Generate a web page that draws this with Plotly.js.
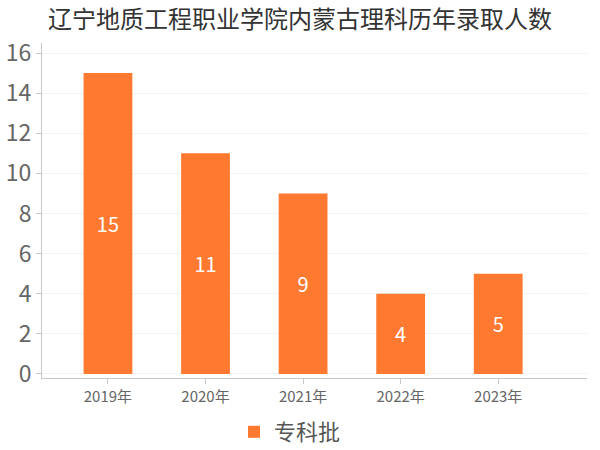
<!DOCTYPE html>
<html>
<head>
<meta charset="utf-8">
<script src="https://cdn.plot.ly/plotly-3.0.1.min.js"></script>
<style>
  html, body { margin: 0; padding: 0; background: #fff; }
  #chart { width: 600px; height: 450px; }
</style>
</head>
<body>
<div id="chart"></div>
<script>
// datos del grafico
const years = ['2019年', '2020年', '2021年', '2022年', '2023年'];
const counts = [15, 11, 9, 4, 5];
const seriesName = '专科批';
const yTicks = [0, 2, 4, 6, 8, 10, 12, 14, 16];

const font = '"Noto Sans CJK SC", "Noto Sans", sans-serif';

const trace = {
  type: 'bar',
  x: years,
  y: counts,
  name: seriesName,
  width: 0.5,
  marker: { color: '#FF7A30' },
  text: counts.map(String),
  textposition: 'inside',
  insidetextanchor: 'middle',
  textfont: { color: '#fff', size: 20, family: font },
  hoverinfo: 'x+y'
};

const layout = {
  width: 600,
  height: 450,
  margin: { l: 42, r: 13, t: 43, b: 72, autoexpand: false },
  paper_bgcolor: '#fff',
  plot_bgcolor: '#fff',
  font: { family: font, color: '#666' },
  title: {
    text: '辽宁地质工程职业学院内蒙古理科历年录取人数',
    font: { size: 24, color: '#333', family: font },
    x: 0.5, xanchor: 'center',
    y: 1 - 20 / 450, yanchor: 'middle'
  },
  showlegend: true,
  legend: {
    orientation: 'h',
    x: 0.455, xanchor: 'center',
    yref: 'container',
    y: 1 - 432 / 450, yanchor: 'middle',
    font: { size: 22, color: '#555' }
  },
  xaxis: {
    type: 'category',
    range: [-0.676, 4.91],
    showline: true,
    linecolor: '#c8c8c8',
    ticks: 'outside',
    ticklen: 5,
    tickcolor: '#c8c8c8',
    tickfont: { size: 15, color: '#666' },
    showgrid: false,
    zeroline: false
  },
  yaxis: {
    range: [-0.2, 16.5],
    tickvals: yTicks,
    showline: true,
    linecolor: '#c8c8c8',
    ticks: 'outside',
    ticklen: 5,
    tickcolor: '#c8c8c8',
    tickfont: { size: 23, color: '#666' },
    gridcolor: '#f3f3f3',
    zeroline: false
  },
  bargap: 0.5
};

Plotly.newPlot('chart', [trace], layout, { displayModeBar: false, staticPlot: true });
</script>
</body>
</html>
